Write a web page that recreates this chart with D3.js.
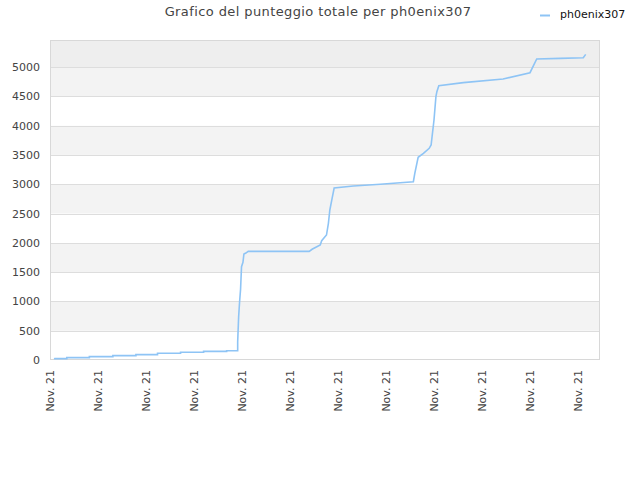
<!DOCTYPE html>
<html><head><meta charset="utf-8">
<script src="https://cdn.jsdelivr.net/npm/d3@7/dist/d3.min.js"></script>
<style>body{margin:0;background:#fff}svg{display:block}text{font-family:"DejaVu Sans",sans-serif}</style>
</head><body>
<svg id="c" width="640" height="480"></svg>
<script>
const title = "Grafico del punteggio totale per ph0enix307";
const seriesName = "ph0enix307";
const tickLabels = ["Nov. 21","Nov. 21","Nov. 21","Nov. 21","Nov. 21","Nov. 21","Nov. 21","Nov. 21","Nov. 21","Nov. 21","Nov. 21","Nov. 21"];
const yTicks = [0,500,1000,1500,2000,2500,3000,3500,4000,4500,5000];
// time in tick units
const times = [0.09,0.10,0.35,0.35,0.82,0.82,1.31,1.31,1.79,1.79,2.24,2.24,2.72,2.72,3.20,3.20,3.68,3.68,3.91,3.91,3.93,3.95,3.97,3.99,4.02,4.04,4.08,4.13,5.40,5.46,5.63,5.66,5.76,5.80,5.83,5.87,5.92,6.32,6.88,7.57,7.60,7.67,7.78,7.90,7.94,7.96,8.00,8.04,8.06,8.10,8.61,9.44,10.00,10.14,10.63,11.11,11.16];
const scores = [11,23,23,40,40,57,57,74,74,91,91,114,114,131,131,148,148,159,159,313,739,995,1206,1593,1667,1809,1825,1854,1854,1890,1962,2036,2133,2332,2560,2730,2935,2969,2998,3043,3185,3459,3527,3612,3669,3811,4096,4494,4579,4681,4733,4795,4903,5137,5148,5159,5216];

const svg = d3.select("#c");
const L=50,R=600,T=40,B=360;
const x = d3.scaleLinear().domain([0, 550/48]).range([L,R]);
const y = d3.scaleLinear().domain([0, 5461]).range([B,T]);

// background bands
svg.append("rect").attr("x",L).attr("y",T).attr("width",R-L).attr("height",y(5000)-T).attr("fill","#eeeeee");
for(let i=0;i<yTicks.length-1;i++){
  svg.append("rect").attr("x",L).attr("y",y(yTicks[i+1])).attr("width",R-L)
    .attr("height",y(yTicks[i])-y(yTicks[i+1])).attr("fill", i%2===1?"#f3f3f3":"#ffffff");
}
// grid lines
svg.selectAll("line.g").data(yTicks.slice(1)).enter().append("line")
  .attr("x1",L).attr("x2",R).attr("y1",d=>Math.round(y(d))+0.5).attr("y2",d=>Math.round(y(d))+0.5)
  .attr("stroke","#dddddd").attr("stroke-width",1);
// frame
svg.append("rect").attr("x",L+0.5).attr("y",T+0.5).attr("width",R-L-1).attr("height",B-T-1)
  .attr("fill","none").attr("stroke","#d8d8d8");

// y labels
svg.selectAll("text.y").data(yTicks).enter().append("text")
  .attr("x",L-10).attr("y",d=>y(d)+4).attr("text-anchor","end")
  .attr("font-size",11).attr("fill","#444").text(d=>d);

// x labels
svg.selectAll("text.x").data(tickLabels).enter().append("text")
  .attr("transform",(d,i)=>`translate(${x(i)+4},${B+10}) rotate(-90)`)
  .attr("text-anchor","end").attr("font-size",11).attr("fill","#444").text(d=>d);

// line
const pts = times.map((t,i)=>[t,scores[i]]);
svg.append("path").datum(pts)
  .attr("d", d3.line().x(d=>x(d[0])).y(d=>y(d[1])))
  .attr("fill","none").attr("stroke","#8ec4f5").attr("stroke-width",1.6);

// title
svg.append("text").attr("x",318).attr("y",16).attr("text-anchor","middle")
  .attr("font-size",13).attr("fill","#444").attr("letter-spacing","0.4").text(title);
// legend
svg.append("line").attr("x1",540).attr("x2",550).attr("y1",15.5).attr("y2",15.5)
  .attr("stroke","#8ec4f5").attr("stroke-width",2);
svg.append("text").attr("x",560).attr("y",18).attr("font-size",11).attr("fill","#111").text(seriesName);
</script>
</body></html>
